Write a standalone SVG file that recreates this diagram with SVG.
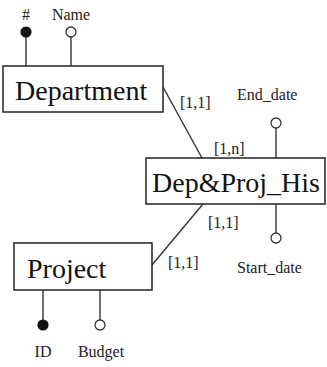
<svg xmlns="http://www.w3.org/2000/svg" width="327" height="367" viewBox="0 0 327 367">
<style>
.box{fill:#fff;stroke:#222;stroke-width:1.5}
.big{font-family:"Liberation Serif",serif;font-size:28px;fill:#111}
.sm{font-family:"Liberation Serif",serif;font-size:16px;fill:#222}
.ln{stroke:#333;stroke-width:1.4;fill:none}
.on{fill:#111;stroke:#111;stroke-width:1.2}
.off{fill:#fff;stroke:#333;stroke-width:1.3}
</style>
<rect width="327" height="367" fill="#fff"/>
<g id="connectors">
<line class="ln" x1="163" y1="87" x2="202" y2="158"/>
<line class="ln" x1="203" y1="204" x2="152" y2="265"/>
<text class="sm" x="180" y="108">[1,1]</text>
<text class="sm" x="214" y="154">[1,n]</text>
<text class="sm" x="208" y="228">[1,1]</text>
<text class="sm" x="168" y="268">[1,1]</text>
</g>
<g id="department">
<line class="ln" x1="26" y1="37" x2="26" y2="66"/>
<line class="ln" x1="71" y1="37" x2="71" y2="66"/>
<circle class="on" cx="26" cy="32" r="5"/>
<circle class="off" cx="71" cy="32" r="5"/>
<text class="sm" x="26" y="20" text-anchor="middle" font-size="13">#</text>
<text class="sm" x="71" y="20" text-anchor="middle">Name</text>
<rect class="box" x="3" y="66" width="160" height="46"/>
<text class="big" x="15" y="100">Department</text>
</g>
<g id="depproj">
<line class="ln" x1="276" y1="128" x2="276" y2="158"/>
<circle class="off" cx="276" cy="123" r="5"/>
<text class="sm" x="237" y="100">End_date</text>
<line class="ln" x1="276" y1="204" x2="276" y2="233"/>
<circle class="off" cx="276" cy="238" r="5"/>
<text class="sm" x="237" y="273">Start_date</text>
<rect class="box" x="146" y="158" width="179" height="46"/>
<text class="big" x="152" y="192">Dep&amp;Proj_His</text>
</g>
<g id="project">
<rect class="box" x="14" y="243" width="138" height="47"/>
<text class="big" x="27" y="278">Project</text>
<line class="ln" x1="43" y1="290" x2="43" y2="320"/>
<line class="ln" x1="100" y1="290" x2="100" y2="320"/>
<circle class="on" cx="43" cy="325" r="5"/>
<circle class="off" cx="100" cy="325" r="5"/>
<text class="sm" x="43" y="357" text-anchor="middle">ID</text>
<text class="sm" x="101" y="357" text-anchor="middle">Budget</text>
</g>
</svg>
